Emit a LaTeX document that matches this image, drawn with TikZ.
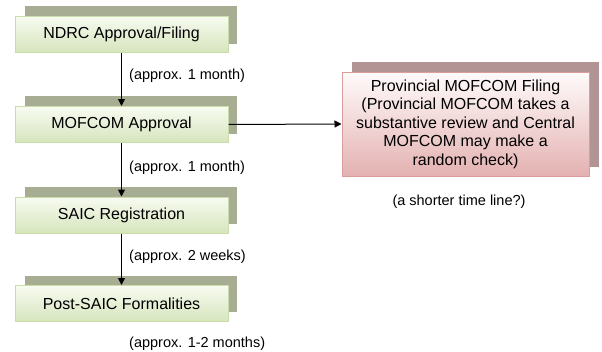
\documentclass[tikz,border=0pt]{standalone}
\usepackage{fontspec}
\setmainfont{Liberation Sans}
\usetikzlibrary{arrows.meta}
\definecolor{gtop}{HTML}{F8FBF1}
\definecolor{gbot}{HTML}{D6E5BD}
\definecolor{gline}{HTML}{C9DCA9}
\definecolor{gshadow}{HTML}{A7AD93}
\definecolor{rtop}{HTML}{FFFBFB}
\definecolor{rbot}{HTML}{E4B1B1}
\definecolor{rline}{HTML}{DD9C9C}
\definecolor{rshadow}{HTML}{B39494}
\tikzset{
  stepbox/.style={draw=gline, line width=1pt, top color=gtop, bottom color=gbot,
    minimum width=213pt, minimum height=36pt, inner sep=0pt, font=\fontsize{16}{18.5}\selectfont},
  gshad/.style={fill=gshadow, draw=none},
  redbox/.style={draw=rline, line width=1pt, top color=rtop, bottom color=rbot,
    minimum width=247pt, minimum height=104pt, inner sep=0pt, align=center,
    font=\fontsize{16}{18.5}\selectfont},
  rshad/.style={fill=rshadow, draw=none},
  lbl/.style={font=\fontsize{14.5}{16}\selectfont, anchor=west, inner sep=0pt},
  conn/.style={-{Triangle[length=7pt,width=7pt]}, line width=1pt, black}
}
\begin{document}
\begin{tikzpicture}[x=1pt,y=-1pt]
\useasboundingbox[fill=white] (0,0) rectangle (602,351);
% shadows
\fill[gshad] (25,6) rectangle (237,44);
\fill[gshad] (25,96) rectangle (237,134);
\fill[gshad] (25,187) rectangle (237,224);
\fill[gshad] (25,276) rectangle (237,312);
\fill[rshad] (352,62) rectangle (599,167);
% boxes
\node[stepbox] (ndrc) at (121.5,34) {NDRC Approval/Filing};
\node[stepbox] (mof) at (121.5,124.5) {MOFCOM Approval};
\node[stepbox] (saic) at (121.5,215) {SAIC Registration};
\node[stepbox] (post) at (121.5,303.5) {Post-SAIC Formalities};
\node[redbox] (prov) at (465.5,124) {Provincial MOFCOM Filing\\(Provincial MOFCOM takes a\\substantive review and Central\\MOFCOM may make a\\random check)};
% connectors
\draw[conn] (ndrc.south) -- (mof.north);
\draw[conn] (mof.south) -- (saic.north);
\draw[conn] (saic.south) -- (post.north);
\draw[conn] (mof.east) -- (prov.west);
% labels
\node[lbl] (l1) at (129,76) {(approx. 1 month)};
\node[lbl] (l2) at (129,168) {(approx. 1 month)};
\node[lbl] (l3) at (129,257) {(approx. 2 weeks)};
\node[lbl] (l4) at (129,344) {(approx. 1-2 months)};
\node[font=\fontsize{14.5}{16}\selectfont, inner sep=0pt] (l5) at (459,202) {(a shorter time line?)};
\end{tikzpicture}
\end{document}
